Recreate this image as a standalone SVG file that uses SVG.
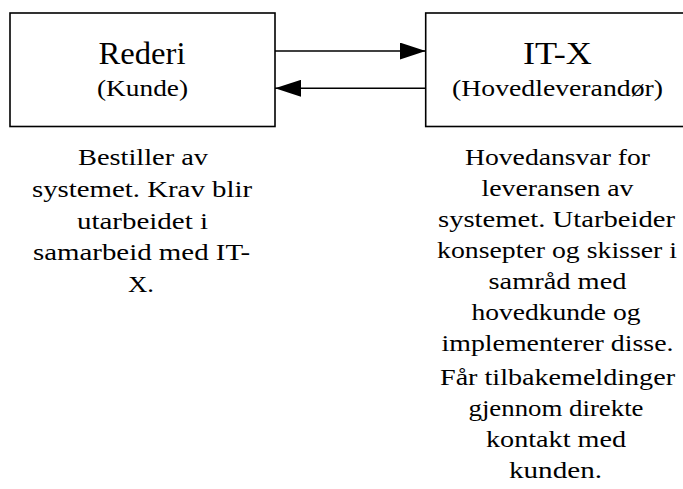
<svg xmlns="http://www.w3.org/2000/svg" width="683" height="489" viewBox="0 0 683 489">
  <defs>
    <style>
      .box { fill: #ffffff; stroke: #000000; stroke-width: 1.6; }
      .link { fill: none; stroke: #000000; stroke-width: 1.6; }
      text { font-family: "Liberation Serif", "DejaVu Serif", "Times New Roman", Times, serif; fill: #000; text-anchor: middle; }
      .title { font-size: 31px; }
      .sub { font-size: 23px; }
      .body { font-size: 24px; }
    </style>
    <marker id="head" viewBox="0 0 26 17" refX="26" refY="8.5" markerWidth="26" markerHeight="17" markerUnits="userSpaceOnUse" orient="auto">
      <path d="M0,0 L26,8.5 L0,17 Z" fill="#000"/>
    </marker>
  </defs>
  <rect width="683" height="489" fill="#ffffff"/>

  <!-- Customer node -->
  <g id="rederi">
    <rect class="box" x="10" y="13" width="265" height="113.5"/>
    <text class="title" x="142" y="64" textLength="87" lengthAdjust="spacingAndGlyphs">Rederi</text>
    <text class="sub" x="142.5" y="96" textLength="91" lengthAdjust="spacingAndGlyphs">(Kunde)</text>
  </g>

  <!-- Main supplier node -->
  <g id="itx">
    <rect class="box" x="425.7" y="13" width="270" height="113.5"/>
    <text class="title" x="557.5" y="63.5" textLength="69" lengthAdjust="spacingAndGlyphs">IT-X</text>
    <text class="sub" x="557.5" y="96" textLength="211" lengthAdjust="spacingAndGlyphs">(Hovedleverandør)</text>
  </g>

  <!-- Connectors -->
  <g id="connectors">
    <line class="link" x1="275" y1="51" x2="425.7" y2="51" marker-end="url(#head)"/>
    <line class="link" x1="425.7" y1="88.3" x2="275" y2="88.3" marker-end="url(#head)"/>
  </g>

  <!-- Description of the customer -->
  <g id="rederi-desc">
    <text class="body" x="143" y="165" textLength="130" lengthAdjust="spacingAndGlyphs">Bestiller av</text>
    <text class="body" x="142" y="196.8" textLength="220" lengthAdjust="spacingAndGlyphs">systemet. Krav blir</text>
    <text class="body" x="142.5" y="228.6" textLength="131" lengthAdjust="spacingAndGlyphs">utarbeidet i</text>
    <text class="body" x="141.5" y="260.4" textLength="217" lengthAdjust="spacingAndGlyphs">samarbeid med IT-</text>
    <text class="body" x="141" y="292.2" textLength="26" lengthAdjust="spacingAndGlyphs">X.</text>
  </g>

  <!-- Description of the main supplier -->
  <g id="itx-desc">
    <text class="body" x="557.5" y="165" textLength="185" lengthAdjust="spacingAndGlyphs">Hovedansvar for</text>
    <text class="body" x="557.5" y="196" textLength="152" lengthAdjust="spacingAndGlyphs">leveransen av</text>
    <text class="body" x="556.5" y="227" textLength="237" lengthAdjust="spacingAndGlyphs">systemet. Utarbeider</text>
    <text class="body" x="557" y="258" textLength="240" lengthAdjust="spacingAndGlyphs">konsepter og skisser i</text>
    <text class="body" x="557.5" y="289" textLength="138" lengthAdjust="spacingAndGlyphs">samråd med</text>
    <text class="body" x="556" y="320" textLength="169" lengthAdjust="spacingAndGlyphs">hovedkunde og</text>
    <text class="body" x="557.5" y="351" textLength="232" lengthAdjust="spacingAndGlyphs">implementerer disse.</text>
    <text class="body" x="557.5" y="385" textLength="235" lengthAdjust="spacingAndGlyphs">Får tilbakemeldinger</text>
    <text class="body" x="556" y="416" textLength="175" lengthAdjust="spacingAndGlyphs">gjennom direkte</text>
    <text class="body" x="556" y="447" textLength="140" lengthAdjust="spacingAndGlyphs">kontakt med</text>
    <text class="body" x="555.5" y="478" textLength="93" lengthAdjust="spacingAndGlyphs">kunden.</text>
  </g>
</svg>
